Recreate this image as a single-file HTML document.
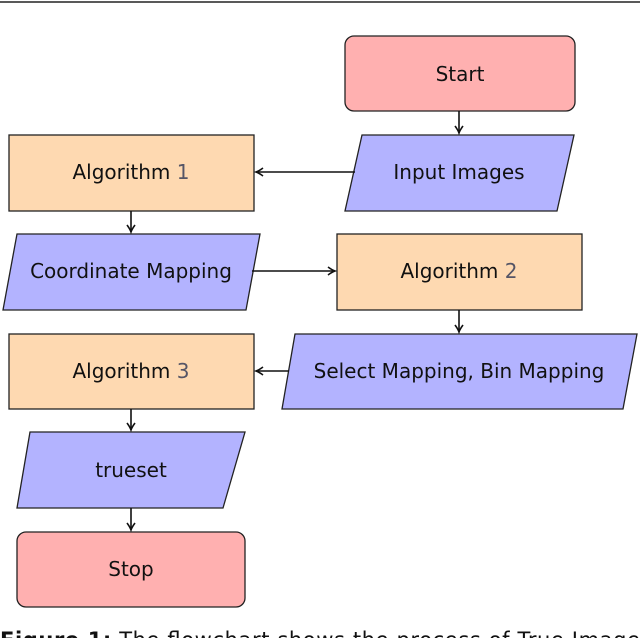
<!DOCTYPE html>
<html><head><style>
body{margin:0;background:#fff;width:640px;height:638px;overflow:hidden}
svg text{font-family:"DejaVu Sans","Liberation Sans",sans-serif;font-size:20px;fill:#111;text-anchor:middle;dominant-baseline:central}
</style></head><body>
<svg width="640" height="638" viewBox="0 0 640 638" xmlns="http://www.w3.org/2000/svg">
<defs><marker id="a" markerWidth="10" markerHeight="10" refX="8" refY="5" orient="auto" markerUnits="userSpaceOnUse"><path d="M1,1 Q5,4 8,5 Q5,6 1,9" fill="none" stroke="#111" stroke-width="1.6"/></marker></defs>
<line x1="0" y1="2" x2="640" y2="2" stroke="#222" stroke-width="1.5"/>
<g stroke="#222" stroke-width="1.3">
<rect x="345" y="36" width="230" height="75" rx="9" fill="#ffb0b0"/>
<polygon points="362,135 574,135 557,211 345,211" fill="#b3b3ff"/>
<rect x="9" y="135" width="245" height="76" fill="#fed9b1"/>
<polygon points="17,234 260,234 246,310 3,310" fill="#b3b3ff"/>
<rect x="337" y="234" width="245" height="76" fill="#fed9b1"/>
<polygon points="295,334 637,334 623,409 282,409" fill="#b3b3ff"/>
<rect x="9" y="334" width="245" height="75" fill="#fed9b1"/>
<polygon points="30,432 245,432 223,508 17,508" fill="#b3b3ff"/>
<rect x="17" y="532" width="228" height="75" rx="9" fill="#ffb0b0"/>
</g>
<g stroke="#111" stroke-width="1.6" fill="none" marker-end="url(#a)">
<line x1="459" y1="111" x2="459" y2="133"/>
<line x1="355" y1="172" x2="256" y2="172"/>
<line x1="131" y1="211" x2="131" y2="232"/>
<line x1="252" y1="271" x2="335" y2="271"/>
<line x1="459" y1="310" x2="459" y2="332"/>
<line x1="289" y1="371" x2="256" y2="371"/>
<line x1="131" y1="409" x2="131" y2="430"/>
<line x1="131" y1="508" x2="131" y2="530"/>
</g>
<text x="460" y="74">Start</text>
<text x="459" y="172">Input Images</text>
<text x="131" y="172">Algorithm <tspan fill="#556">1</tspan></text>
<text x="131" y="271">Coordinate Mapping</text>
<text x="459" y="271">Algorithm <tspan fill="#556">2</tspan></text>
<text x="459" y="371">Select Mapping, Bin Mapping</text>
<text x="131" y="371">Algorithm <tspan fill="#556">3</tspan></text>
<text x="131" y="470">trueset</text>
<text x="131" y="569">Stop</text>
<text x="0" y="640" style="text-anchor:start;font-size:21px" textLength="640" lengthAdjust="spacing"><tspan font-weight="bold">Figure 1:</tspan> The flowchart shows the process of True Image</text>
</svg>
</body></html>
